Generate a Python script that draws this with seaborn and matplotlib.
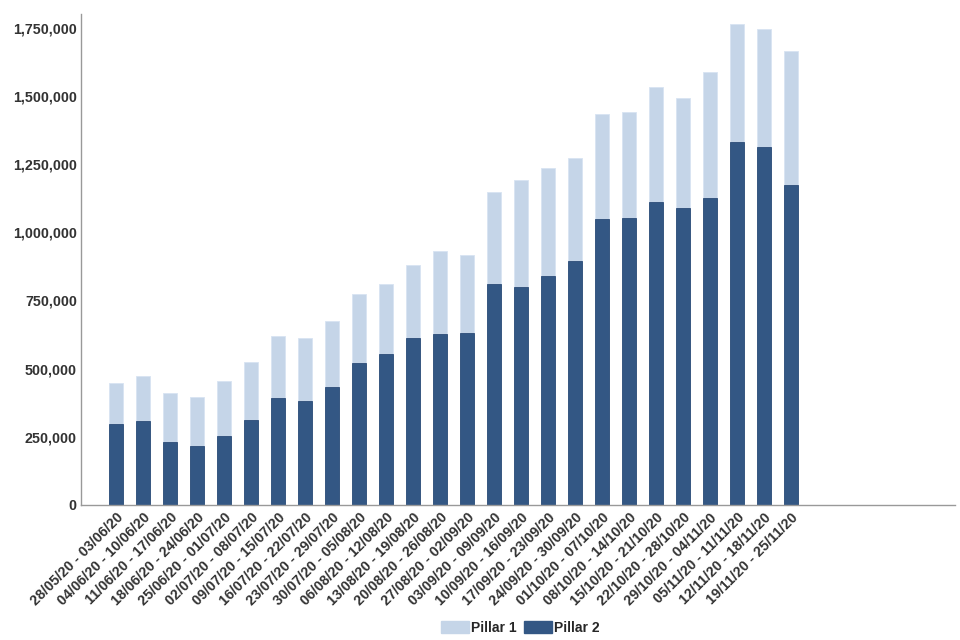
import seaborn as sns
import pandas as pd
import numpy as np
import matplotlib.pyplot as plt
from matplotlib.patches import Patch

# Weekly periods
weeks = ['28/05/20 - 03/06/20', '04/06/20 - 10/06/20', '11/06/20 - 17/06/20',
         '18/06/20 - 24/06/20', '25/06/20 - 01/07/20', '02/07/20 - 08/07/20',
         '09/07/20 - 15/07/20', '16/07/20 - 22/07/20', '23/07/20 - 29/07/20',
         '30/07/20 - 05/08/20', '06/08/20 - 12/08/20', '13/08/20 - 19/08/20',
         '20/08/20 - 26/08/20', '27/08/20 - 02/09/20', '03/09/20 - 09/09/20',
         '10/09/20 - 16/09/20', '17/09/20 - 23/09/20', '24/09/20 - 30/09/20',
         '01/10/20 - 07/10/20', '08/10/20 - 14/10/20', '15/10/20 - 21/10/20',
         '22/10/20 - 28/10/20', '29/10/20 - 04/11/20', '05/11/20 - 11/11/20',
         '12/11/20 - 18/11/20', '19/11/20 - 25/11/20']

pillar2 = [297000, 307000, 230000, 216000, 253000, 310000, 392000, 383000,
           432000, 519000, 554000, 614000, 628000, 629000, 811000, 800000,
           838000, 895000, 1050000, 1051000, 1111000, 1090000, 1125000,
           1330000, 1311000, 1175000]

pillar1 = [152000, 167000, 179000, 180000, 200000, 215000, 229000, 231000,
           242000, 254000, 256000, 265000, 305000, 287000, 336000, 390000,
           396000, 377000, 382000, 391000, 423000, 403000, 464000,
           432000, 436000, 488000]

df = pd.DataFrame({'week': weeks, 'Pillar 1': pillar1, 'Pillar 2': pillar2})
df['total'] = df['Pillar 1'] + df['Pillar 2']

light = '#c5d5e8'
dark = '#335784'
text_col = '#333333'

sns.set_style('white')
plt.rcParams['font.family'] = ['Liberation Sans', 'DejaVu Sans']

fig = plt.figure(figsize=(9.6, 6.4), dpi=100)
ax = fig.add_axes([0.0844, 0.211, 0.9106, 0.767])

# stacked: draw totals (light) then pillar 2 (dark) over it
sns.barplot(data=df, x='week', y='total', color=light, width=0.5,
            saturation=1, edgecolor='#d8e4f2', linewidth=0.6, ax=ax)
sns.barplot(data=df, x='week', y='Pillar 2', color=dark, width=0.5,
            saturation=1, edgecolor='#2b4c78', linewidth=0.6, ax=ax)

ax.set_xlim(-1.29, 31.08)
ax.set_ylim(0, 1800000)
ax.set_yticks(np.arange(0, 1750001, 250000))
ax.yaxis.set_major_formatter(plt.FuncFormatter(lambda v, p: f'{int(v):,}'))
ax.set_xlabel('')
ax.set_ylabel('')

for s in ['top', 'right']:
    ax.spines[s].set_visible(False)
for s in ['left', 'bottom']:
    ax.spines[s].set_color('#999999')
    ax.spines[s].set_linewidth(1)

ax.tick_params(axis='both', length=0, labelsize=10.3, labelcolor=text_col)
ax.tick_params(axis='y', pad=3)
ax.tick_params(axis='x', pad=4)
plt.setp(ax.get_yticklabels(), fontweight='bold')
plt.setp(ax.get_xticklabels(), rotation=45, ha='right',
         rotation_mode='anchor', fontweight='bold')

handles = [Patch(facecolor=light, edgecolor=light, label='Pillar 1'),
           Patch(facecolor=dark, edgecolor=dark, label='Pillar 2')]
leg = fig.legend(handles=handles, loc='center', ncol=2,
                 bbox_to_anchor=(0.542, 0.019), frameon=False,
                 handlelength=2.0, handleheight=0.9, handletextpad=0.2,
                 columnspacing=0.5, prop={'weight': 'bold', 'size': 10})

plt.savefig('out.png', dpi=100)
